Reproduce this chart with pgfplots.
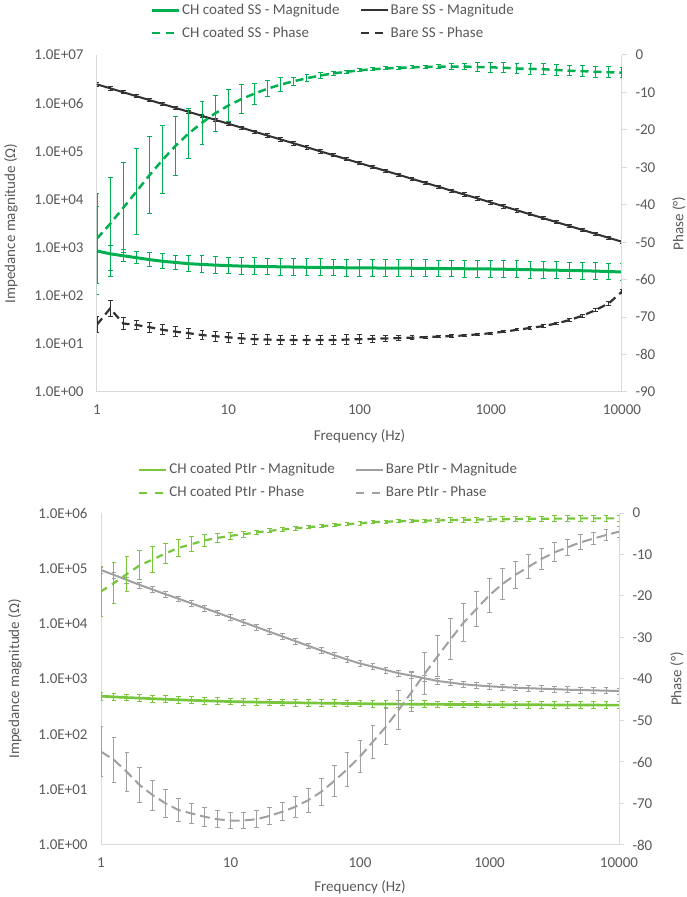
\documentclass[border=0pt]{standalone}
\usepackage{pgfplots}
\pgfplotsset{compat=1.18}
\usepackage{pgfplotstable}
\usepackage{fontspec}
\setmainfont{Carlito}
\definecolor{sgreen}{RGB}{0,176,80}
\definecolor{sblack}{RGB}{50,50,50}
\definecolor{pgreen}{RGB}{120,198,60}
\definecolor{pgray}{RGB}{160,160,160}
\definecolor{axgray}{RGB}{217,217,217}
\definecolor{lblgray}{RGB}{89,89,89}

% top panel: CH coated SS / Bare SS
\pgfplotstableread{
f cm cmp cmm cp cpe bm be bp bpe
1 851 7.2 0.878 -49.0 11.9 2455000 0.08 -72.0 2.2
1.259 741 0.51 0.665 -45.1 12.4 2033000 0.08 -67.7 2.2
1.585 676 0.32 0.24 -40.8 12.0 1683000 0.08 -71.7 1.5
1.995 617 0.32 0.24 -36.5 11.5 1396000 0.08 -72.1 1.3
2.512 562 0.40 0.28 -32.1 10.3 1156000 0.08 -72.7 1.3
3.162 519 0.42 0.30 -28.0 9.1 957000 0.08 -73.4 1.3
3.981 490 0.43 0.30 -24.2 7.9 794000 0.08 -73.9 1.3
5.012 462 0.47 0.32 -20.9 6.7 658000 0.08 -74.3 1.3
6.310 447 0.50 0.33 -18.1 5.8 545000 0.08 -74.8 1.3
7.943 432 0.50 0.33 -15.6 4.9 451000 0.08 -75.1 1.3
10 422 0.50 0.33 -13.5 4.2 374000 0.08 -75.4 1.3
12.59 412 0.50 0.33 -11.8 3.9 310000 0.08 -75.7 1.3
15.85 407 0.50 0.33 -10.3 2.8 256000 0.08 -75.9 1.3
19.95 403 0.50 0.33 -9.0 2.2 212000 0.08 -76.0 1.3
25.12 398 0.50 0.33 -7.9 1.8 176000 0.08 -76.1 1.3
31.62 394 0.50 0.33 -7.0 1.1 146000 0.08 -76.1 1.3
39.81 389 0.50 0.33 -6.2 1.0 121000 0.08 -76.1 1.3
50.12 386 0.50 0.33 -5.5 0.9 100000 0.08 -76.1 1.3
63.10 384 0.50 0.33 -4.9 0.6 83000 0.08 -76.1 1.3
79.43 380 0.50 0.33 -4.5 0.4 68700 0.08 -76.0 1.3
100 378 0.50 0.33 -4.1 0.4 56900 0.08 -75.9 1.2
125.9 377 0.50 0.33 -3.8 0.4 47100 0.08 -75.8 1.0
158.5 375 0.50 0.33 -3.6 0.4 39100 0.08 -75.7 0.8
199.5 373 0.50 0.33 -3.4 0.4 32400 0.08 -75.6 0.6
251.2 372 0.50 0.33 -3.3 0.4 26800 0.08 -75.5 0.5
316.2 370 0.50 0.33 -3.2 0.5 22200 0.08 -75.35 0.3
398.1 367 0.50 0.33 -3.1 0.6 18400 0.08 -75.2 0.3
501.2 366 0.50 0.33 -3.1 0.8 15200 0.08 -75.05 0.3
631.0 363 0.50 0.33 -3.1 0.9 12600 0.08 -74.9 0.3
794.3 361 0.50 0.33 -3.2 1.2 10500 0.08 -74.6 0.3
1000 359 0.50 0.33 -3.3 1.4 8660 0.08 -74.3 0.3
1259 355 0.50 0.33 -3.4 1.4 7180 0.08 -73.9 0.3
1585 351 0.50 0.33 -3.6 1.4 5940 0.08 -73.4 0.3
1995 347 0.50 0.33 -3.7 1.4 4920 0.08 -72.9 0.3
2512 343 0.50 0.33 -3.8 1.4 4080 0.08 -72.4 0.3
3162 339 0.50 0.33 -4.0 1.4 3380 0.08 -71.7 0.3
3981 334 0.50 0.33 -4.2 1.4 2800 0.08 -70.8 0.4
5012 330 0.50 0.33 -4.3 1.4 2320 0.08 -69.6 0.4
6310 324 0.50 0.33 -4.5 1.4 1920 0.08 -68.1 0.5
7943 318 0.50 0.33 -4.6 1.4 1590 0.08 -66.3 0.5
10000 311 0.50 0.33 -4.7 1.4 1320 0.08 -63.2 0.5
}\tabSS

% bottom panel: CH coated PtIr / Bare PtIr
\pgfplotstableread{
f gm gmp gmm gp gpe am ae ap ape
1 490 0.18 0.15 -18.9 6.0 93300 0.12 -57.5 6.0
1.259 475 0.15 0.13 -16.9 4.9 75900 0.12 -59.5 5.5
1.585 462 0.15 0.13 -14.7 4.2 61700 0.12 -62.4 4.8
1.995 451 0.15 0.13 -12.6 3.5 50100 0.12 -65.6 4.2
2.512 440 0.15 0.13 -11.2 3.1 41200 0.12 -68.0 3.6
3.162 430 0.15 0.13 -9.7 2.4 33900 0.12 -70.0 3.3
3.981 421 0.15 0.13 -8.4 2.1 28200 0.12 -71.6 2.7
5.012 412 0.15 0.13 -7.5 1.8 23200 0.12 -72.4 2.5
6.310 405 0.15 0.13 -6.6 1.4 19100 0.12 -73.2 2.3
7.943 397 0.15 0.13 -6.0 1.1 15700 0.12 -73.8 2.1
10 391 0.15 0.13 -5.5 0.8 12900 0.12 -74.1 2.0
12.59 386 0.15 0.13 -5.1 0.7 10600 0.12 -74.1 2.0
15.85 382 0.15 0.13 -4.7 0.6 8710 0.12 -73.8 2.0
19.95 378 0.15 0.13 -4.3 0.5 7160 0.12 -73.0 2.0
25.12 375 0.15 0.13 -4.0 0.4 5890 0.12 -72.0 2.2
31.62 372 0.15 0.13 -3.7 0.4 4840 0.12 -70.8 2.5
39.81 369 0.15 0.13 -3.4 0.4 3980 0.12 -69.2 2.9
50.12 366 0.15 0.13 -3.2 0.4 3270 0.12 -67.2 3.3
63.10 364 0.15 0.13 -2.9 0.4 2700 0.12 -64.6 3.7
79.43 361 0.15 0.13 -2.7 0.4 2250 0.12 -61.8 4.0
100 359 0.15 0.13 -2.5 0.4 1905 0.12 -58.7 3.8
125.9 355 0.15 0.13 -2.2 0.4 1667 0.12 -55.1 4.0
158.5 353 0.15 0.13 -2.1 0.4 1455 0.12 -51.5 4.4
199.5 352 0.15 0.13 -2.0 0.4 1268 0.12 -47.4 4.7
251.2 351 0.15 0.13 -1.9 0.4 1148 0.12 -43.1 4.8
316.2 349 0.15 0.13 -1.85 0.4 1028 0.12 -38.7 5.0
398.1 348 0.15 0.13 -1.8 0.5 920 0.12 -34.5 5.0
501.2 347 0.15 0.13 -1.7 0.5 859 0.12 -30.4 4.9
631.0 346 0.15 0.13 -1.65 0.6 802 0.12 -26.4 4.6
794.3 345 0.15 0.13 -1.6 0.6 769 0.12 -23.1 4.2
1000 344 0.15 0.13 -1.55 0.6 738 0.12 -19.8 4.1
1259 344 0.15 0.13 -1.5 0.6 716 0.12 -17.1 3.7
1585 343 0.15 0.13 -1.45 0.6 697 0.12 -14.9 3.2
1995 342 0.15 0.13 -1.4 0.6 682 0.12 -13.0 2.9
2512 341 0.15 0.13 -1.4 0.6 668 0.12 -11.1 2.6
3162 340 0.15 0.13 -1.35 0.7 655 0.12 -9.5 2.3
3981 340 0.15 0.13 -1.35 0.7 641 0.12 -8.3 2.0
5012 339 0.15 0.13 -1.3 0.7 632 0.12 -7.1 1.8
6310 338 0.15 0.13 -1.3 0.7 624 0.12 -6.2 1.5
7943 337 0.15 0.13 -1.3 0.7 615 0.12 -5.3 1.4
10000 337 0.15 0.13 -1.3 0.7 607 0.12 -4.5 1.3
}\tabPt

\pgfplotsset{
  every axis/.append style={
    tick label style={font=\fontsize{15}{18}\selectfont, text=lblgray},
    label style={font=\fontsize{15}{18}\selectfont, text=lblgray},
    axis line style={draw=axgray, line width=1pt},
    minor tick length=0pt,
  },
  legend image code/.code={\draw[#1] (0pt,0pt) -- (27pt,0pt);},
}

\begin{document}
\begin{tikzpicture}
\path[use as bounding box] (0,0) rectangle (686pt,897pt);

% ---------------- top panel ----------------
\begin{axis}[scale only axis, at={(97pt,505pt)}, anchor=south west,
  width=525pt, height=337pt,
  xmode=log, ymode=log, xmin=1, xmax=10000, ymin=1, ymax=1e7,
  axis x line*=bottom, axis y line*=left, major tick length=0pt,
  xtick={1,10,100,1000,10000}, xticklabels={1,10,100,1000,10000},
  xticklabel style={yshift=-9pt}, yticklabel style={xshift=-10pt},
  ytick={1,10,100,1000,10000,100000,1000000,10000000},
  yticklabels={1.0E+00,1.0E+01,1.0E+02,1.0E+03,1.0E+04,1.0E+05,1.0E+06,1.0E+07},
  xlabel={Frequency (Hz)},
  xlabel style={at={(axis description cs:0.5,-0.13)}, anchor=center},
  ylabel={Impedance magnitude (Ω)},
  ylabel style={at={(axis description cs:-0.164,0.5)}, rotate=0, anchor=center},
]
\addplot[sgreen, line width=3pt, no marks,
  error bars/.cd, y dir=both, y explicit relative,
  error bar style={solid, line width=1pt},
  error mark options={rotate=90, solid, mark size=2.4pt, line width=1pt}]
  table[x=f, y=cm, y error plus=cmp, y error minus=cmm] {\tabSS};
\addplot[sblack, line width=2pt, no marks,
  error bars/.cd, y dir=both, y explicit relative,
  error bar style={solid, line width=1pt},
  error mark options={rotate=90, solid, mark size=2.4pt, line width=1pt}]
  table[x=f, y=bm, y error=be] {\tabSS};
\end{axis}
\begin{axis}[scale only axis, at={(97pt,505pt)}, anchor=south west,
  width=525pt, height=337pt,
  xmode=log, xmin=1, xmax=10000, ymin=-90, ymax=0,
  axis y line*=right, axis x line=none,
  major tick length=5pt, tick align=outside,
  tick style={draw=axgray, line width=1pt},
  yticklabel style={xshift=5pt},
  ytick={-90,-80,-70,-60,-50,-40,-30,-20,-10,0},
  yticklabels={-90,-80,-70,-60,-50,-40,-30,-20,-10,0},
  ylabel={Phase (°)},
  ylabel style={at={(axis description cs:1.1086,0.5)}, rotate=0, anchor=center},
  legend columns=2,
  legend cell align=left,
  legend style={at={(axis description cs:0.4495,1.0994)}, anchor=center,
    draw=none, fill=none, font=\fontsize{15}{18}\selectfont, text=lblgray,
    nodes={inner xsep=2pt, inner ysep=2pt, text height=11pt, text depth=3pt},
    row sep=5pt,
    /tikz/every even column/.append style={column sep=18pt}},
]
\addlegendimage{sgreen, line width=3pt}
\addlegendentry{CH coated SS - Magnitude}
\addlegendimage{sblack, line width=2pt}
\addlegendentry{Bare SS - Magnitude}
\addlegendimage{sgreen, line width=2.5pt, dash pattern=on 8pt off 6pt}
\addlegendentry{CH coated SS - Phase}
\addlegendimage{sblack, line width=2.2pt, dash pattern=on 8pt off 6pt}
\addlegendentry{Bare SS - Phase}
\addplot[sgreen, line width=2.5pt, dash pattern=on 8pt off 5pt, no marks, forget plot,
  error bars/.cd, y dir=both, y explicit,
  error bar style={solid, line width=1pt},
  error mark options={rotate=90, solid, mark size=2.4pt, line width=1pt}]
  table[x=f, y=cp, y error=cpe] {\tabSS};
\addplot[sblack, line width=2.2pt, dash pattern=on 8pt off 5pt, no marks, forget plot,
  error bars/.cd, y dir=both, y explicit,
  error bar style={solid, line width=1pt},
  error mark options={rotate=90, solid, mark size=2.4pt, line width=1pt}]
  table[x=f, y=bp, y error=bpe] {\tabSS};
\end{axis}

% ---------------- bottom panel ----------------
\begin{axis}[scale only axis, at={(101pt,52pt)}, anchor=south west,
  width=518pt, height=332pt,
  xmode=log, ymode=log, xmin=1, xmax=10000, ymin=1, ymax=1e6,
  axis x line*=bottom, axis y line*=left, major tick length=0pt,
  xtick={1,10,100,1000,10000}, xticklabels={1,10,100,1000,10000},
  xticklabel style={yshift=-9pt}, yticklabel style={xshift=-10pt},
  ytick={1,10,100,1000,10000,100000,1000000},
  yticklabels={1.0E+00,1.0E+01,1.0E+02,1.0E+03,1.0E+04,1.0E+05,1.0E+06},
  xlabel={Frequency (Hz)},
  xlabel style={at={(axis description cs:0.5,-0.1265)}, anchor=center},
  ylabel={Impedance magnitude (Ω)},
  ylabel style={at={(axis description cs:-0.166,0.5)}, rotate=0, anchor=center},
]
\addplot[pgreen, line width=2.7pt, no marks,
  error bars/.cd, y dir=both, y explicit relative,
  error bar style={solid, line width=1pt},
  error mark options={rotate=90, solid, mark size=2.4pt, line width=1pt}]
  table[x=f, y=gm, y error plus=gmp, y error minus=gmm] {\tabPt};
\addplot[pgray, line width=2pt, no marks,
  error bars/.cd, y dir=both, y explicit relative,
  error bar style={solid, line width=1pt},
  error mark options={rotate=90, solid, mark size=2.4pt, line width=1pt}]
  table[x=f, y=am, y error=ae] {\tabPt};
\end{axis}
\begin{axis}[scale only axis, at={(101pt,52pt)}, anchor=south west,
  width=518pt, height=332pt,
  xmode=log, xmin=1, xmax=10000, ymin=-80, ymax=0,
  axis y line*=right, axis x line=none,
  major tick length=5pt, tick align=outside,
  tick style={draw=axgray, line width=1pt},
  yticklabel style={xshift=5pt},
  ytick={-80,-70,-60,-50,-40,-30,-20,-10,0},
  yticklabels={-80,-70,-60,-50,-40,-30,-20,-10,0},
  ylabel={Phase (°)},
  ylabel style={at={(axis description cs:1.112,0.5)}, rotate=0, anchor=center},
  legend columns=2,
  legend cell align=left,
  legend style={at={(axis description cs:0.439,1.095)}, anchor=center,
    draw=none, fill=none, font=\fontsize{15}{18}\selectfont, text=lblgray,
    nodes={inner xsep=2pt, inner ysep=2pt, text height=11pt, text depth=3pt},
    row sep=5pt,
    /tikz/every even column/.append style={column sep=18pt}},
]
\addlegendimage{pgreen, line width=2.7pt}
\addlegendentry{CH coated PtIr - Magnitude}
\addlegendimage{pgray, line width=2pt}
\addlegendentry{Bare PtIr - Magnitude}
\addlegendimage{pgreen, line width=2.2pt, dash pattern=on 8pt off 8pt}
\addlegendentry{CH coated PtIr - Phase}
\addlegendimage{pgray, line width=2pt, dash pattern=on 8pt off 8pt}
\addlegendentry{Bare PtIr - Phase}
\addplot[pgreen, line width=2.2pt, dash pattern=on 7pt off 6pt, no marks, forget plot,
  error bars/.cd, y dir=both, y explicit,
  error bar style={solid, line width=1pt},
  error mark options={rotate=90, solid, mark size=2.4pt, line width=1pt}]
  table[x=f, y=gp, y error=gpe] {\tabPt};
\addplot[pgray, line width=2pt, dash pattern=on 10pt off 5pt, no marks, forget plot,
  error bars/.cd, y dir=both, y explicit,
  error bar style={solid, line width=1pt},
  error mark options={rotate=90, solid, mark size=2.4pt, line width=1pt}]
  table[x=f, y=ap, y error=ape] {\tabPt};
\end{axis}
\end{tikzpicture}
\end{document}
